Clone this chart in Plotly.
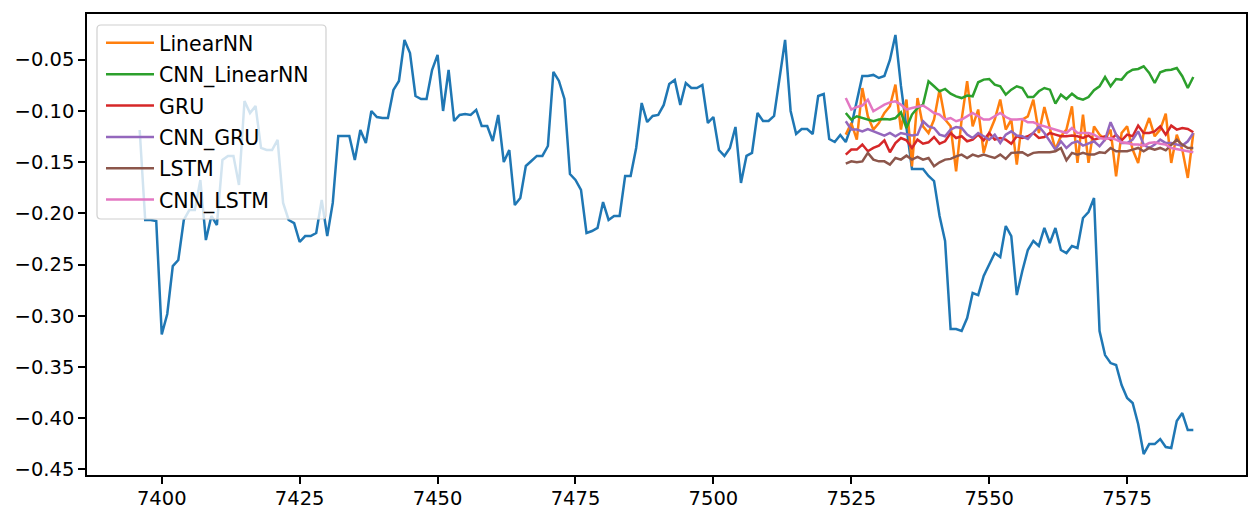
import plotly.graph_objects as go

# ---------------- data ----------------
actual_start = 7396
actual = [
    -0.1187, -0.2065, -0.2065, -0.2075, -0.3183, -0.2983, -0.2515, -0.2456, -0.2065, -0.1968,
    -0.1968, -0.1675, -0.2261, -0.2026, -0.2114, -0.1480, -0.1440, -0.1440, -0.1724, -0.0904,
    -0.1021, -0.0952, -0.1362, -0.1382, -0.1382, -0.1284, -0.1899, -0.2065, -0.2095, -0.2280,
    -0.2222, -0.2222, -0.2192, -0.1870, -0.2222, -0.1899, -0.1245, -0.1245, -0.1245, -0.1480,
    -0.1187, -0.1314, -0.1001, -0.1060, -0.1070, -0.1070, -0.0796, -0.0708, -0.0308, -0.0435,
    -0.0855, -0.0884, -0.0884, -0.0601, -0.0454, -0.1001, -0.0601, -0.1099, -0.1040, -0.1030,
    -0.1040, -0.0991, -0.1148, -0.1148, -0.1294, -0.1040, -0.1499, -0.1382, -0.1919, -0.1851,
    -0.1538, -0.1489, -0.1440, -0.1440, -0.1343, -0.0620, -0.0708, -0.0884, -0.1616, -0.1675,
    -0.1772, -0.2192, -0.2173, -0.2143, -0.1890, -0.2065, -0.2026, -0.2026, -0.1636, -0.1636,
    -0.1362, -0.0923, -0.1109, -0.1050, -0.1040, -0.0942, -0.0738, -0.0698, -0.0942, -0.0728,
    -0.0777, -0.0777, -0.0747, -0.1118, -0.1060, -0.1382, -0.1440, -0.1362, -0.1157, -0.1704,
    -0.1440, -0.1411, -0.1021, -0.1099, -0.1099, -0.1050, -0.0698, -0.0308, -0.1001, -0.1226,
    -0.1177, -0.1177, -0.1226, -0.0855, -0.0835, -0.1275, -0.1304, -0.1235, -0.1304, -0.1148,
    -0.0904, -0.0659, -0.0659, -0.0649, -0.0679, -0.0659, -0.0503, -0.0259, -0.0757, -0.1187,
    -0.1567, -0.1567, -0.1567, -0.1636, -0.1685, -0.2026, -0.2270, -0.3130, -0.3130, -0.3149,
    -0.3022, -0.2778, -0.2798, -0.2612, -0.2505, -0.2388, -0.2427, -0.2124, -0.2222, -0.2798,
    -0.2563, -0.2358, -0.2270, -0.2319, -0.2143, -0.2290, -0.2143, -0.2358, -0.2388, -0.2319,
    -0.2339, -0.2046, -0.1987, -0.1851, -0.3149, -0.3384, -0.3462, -0.3481, -0.3676, -0.3803,
    -0.3852, -0.4057, -0.4350, -0.4253, -0.4253, -0.4204, -0.4282, -0.4292, -0.4028, -0.3950,
    -0.4116, -0.4116,
]

pred_start = 7524

linear_nn = [
    -0.1232, -0.1119, -0.1280, -0.0777, -0.1053, -0.1183, -0.1119, -0.1021, -0.0955, -0.0744,
    -0.1183, -0.0890, -0.1541, -0.0875, -0.1151, -0.1216, -0.1085, -0.0793, -0.1085, -0.1151,
    -0.1590, -0.1085, -0.0711, -0.1151, -0.0987, -0.1410, -0.1216, -0.1085, -0.0890, -0.1183,
    -0.1085, -0.1524, -0.1085, -0.1053, -0.0890, -0.1216, -0.0962, -0.1183, -0.1378, -0.1248,
    -0.1183, -0.0955, -0.1508, -0.1036, -0.1508, -0.1151, -0.1232, -0.1280, -0.1183, -0.1639,
    -0.1216, -0.1151, -0.1378, -0.1508, -0.1216, -0.1070, -0.1248, -0.1183, -0.1027, -0.1508,
    -0.1232, -0.1378, -0.1655, -0.1216,
]

cnn_linear_nn = [
    -0.1021, -0.1085, -0.1053, -0.1070, -0.1085, -0.1101, -0.1085, -0.1080, -0.1085, -0.1070,
    -0.1014, -0.1167, -0.1036, -0.0972, -0.0939, -0.0711, -0.0760, -0.0809, -0.0786, -0.0832,
    -0.0858, -0.0875, -0.0851, -0.0858, -0.0721, -0.0695, -0.0689, -0.0744, -0.0760, -0.0842,
    -0.0793, -0.0760, -0.0777, -0.0865, -0.0865, -0.0809, -0.0777, -0.0793, -0.0929, -0.0842,
    -0.0884, -0.0832, -0.0875, -0.0890, -0.0865, -0.0799, -0.0760, -0.0670, -0.0760, -0.0689,
    -0.0695, -0.0630, -0.0598, -0.0591, -0.0565, -0.0630, -0.0728, -0.0623, -0.0604, -0.0598,
    -0.0582, -0.0662, -0.0777, -0.0670,
]

gru = [
    -0.1427, -0.1378, -0.1378, -0.1329, -0.1394, -0.1362, -0.1339, -0.1288, -0.1404, -0.1314,
    -0.1265, -0.1288, -0.1362, -0.1281, -0.1320, -0.1307, -0.1255, -0.1320, -0.1297, -0.1216,
    -0.1265, -0.1248, -0.1297, -0.1281, -0.1232, -0.1288, -0.1216, -0.1281, -0.1265, -0.1281,
    -0.1320, -0.1248, -0.1265, -0.1248, -0.1216, -0.1265, -0.1255, -0.1216, -0.1232, -0.1248,
    -0.1248, -0.1241, -0.1248, -0.1265, -0.1241, -0.1281, -0.1265, -0.1248, -0.1281, -0.1232,
    -0.1288, -0.1232, -0.1248, -0.1144, -0.1216, -0.1216, -0.1200, -0.1151, -0.1232, -0.1144,
    -0.1183, -0.1167, -0.1177, -0.1209,
]

cnn_gru = [
    -0.1101, -0.1183, -0.1183, -0.1200, -0.1177, -0.1200, -0.1222, -0.1241, -0.1216, -0.1248,
    -0.1216, -0.1232, -0.1241, -0.1232, -0.1101, -0.1151, -0.1167, -0.1232, -0.1248, -0.1183,
    -0.1157, -0.1167, -0.1232, -0.1265, -0.1216, -0.1248, -0.1281, -0.1232, -0.1314, -0.1232,
    -0.1200, -0.1241, -0.1248, -0.1275, -0.1216, -0.1151, -0.1216, -0.1297, -0.1378, -0.1297,
    -0.1362, -0.1314, -0.1297, -0.1339, -0.1314, -0.1297, -0.1346, -0.1281, -0.1111, -0.1232,
    -0.1314, -0.1314, -0.1281, -0.1200, -0.1329, -0.1362, -0.1329, -0.1281, -0.1314, -0.1314,
    -0.1329, -0.1339, -0.1297, -0.1216,
]

lstm = [
    -0.1515, -0.1493, -0.1502, -0.1493, -0.1410, -0.1476, -0.1493, -0.1493, -0.1524, -0.1460,
    -0.1476, -0.1437, -0.1476, -0.1450, -0.1476, -0.1460, -0.1541, -0.1502, -0.1476, -0.1469,
    -0.1444, -0.1427, -0.1460, -0.1427, -0.1444, -0.1427, -0.1444, -0.1460, -0.1427, -0.1469,
    -0.1410, -0.1404, -0.1404, -0.1437, -0.1410, -0.1404, -0.1404, -0.1404, -0.1394, -0.1362,
    -0.1483, -0.1410, -0.1427, -0.1410, -0.1427, -0.1427, -0.1404, -0.1410, -0.1362, -0.1394,
    -0.1394, -0.1394, -0.1378, -0.1362, -0.1394, -0.1362, -0.1378, -0.1362, -0.1385, -0.1329,
    -0.1281, -0.1329, -0.1362, -0.1362,
]

cnn_lstm = [
    -0.0875, -0.0987, -0.0962, -0.0948, -0.0890, -0.1004, -0.0972, -0.0939, -0.0917, -0.0907,
    -0.0939, -0.0987, -0.0972, -0.0962, -0.0948, -0.0981, -0.1021, -0.1036, -0.1085, -0.1070,
    -0.1101, -0.1085, -0.1053, -0.1021, -0.1053, -0.1085, -0.1085, -0.1053, -0.1021, -0.1060,
    -0.1085, -0.1085, -0.1080, -0.1111, -0.1111, -0.1134, -0.1151, -0.1167, -0.1183, -0.1200,
    -0.1216, -0.1167, -0.1216, -0.1216, -0.1216, -0.1232, -0.1265, -0.1275, -0.1265, -0.1281,
    -0.1307, -0.1314, -0.1329, -0.1329, -0.1339, -0.1314, -0.1307, -0.1320, -0.1329, -0.1362,
    -0.1371, -0.1378, -0.1394, -0.1404,
]

series_names = ["LinearNN", "CNN_LinearNN", "GRU", "CNN_GRU", "LSTM", "CNN_LSTM"]
series_values = [linear_nn, cnn_linear_nn, gru, cnn_gru, lstm, cnn_lstm]
series_colors = ["#ff7f0e", "#2ca02c", "#d62728", "#9467bd", "#8c564b", "#e377c2"]

x_ticks = [7400, 7425, 7450, 7475, 7500, 7525, 7550, 7575]
y_ticks = [-0.45, -0.40, -0.35, -0.30, -0.25, -0.20, -0.15, -0.10, -0.05]

# ---------------- figure ----------------
actual_x = list(range(actual_start, actual_start + len(actual)))
pred_x = list(range(pred_start, pred_start + len(linear_nn)))

W, H = 1250, 514
ML, MR, MT, MB = 87, 4, 14, 39
PW, PH = W - ML - MR, H - MT - MB

def px_x(p):  # pixel column -> paper x
    return (p - ML) / PW

def px_y(p):  # pixel row -> paper y
    return 1 - (p - MT) / PH

LW = 2.5
fig = go.Figure()
fig.add_trace(go.Scatter(x=actual_x, y=actual, mode="lines",
                         line=dict(color="#1f77b4", width=LW),
                         showlegend=False, name="actual"))
for name, vals, col in zip(series_names, series_values, series_colors):
    fig.add_trace(go.Scatter(x=pred_x, y=vals, mode="lines", name=name,
                             legendgroup=name,
                             line=dict(color=col, width=LW)))

# matplotlib-like 5% margins
all_y = actual + [v for s in series_values for v in s]
ymin, ymax = min(all_y), max(all_y)
yr = ymax - ymin
xmin, xmax = actual_x[0], actual_x[-1]
xr = xmax - xmin

tick_font = dict(family="DejaVu Sans", size=19.5, color="#000000")
legend_font = dict(family="DejaVu Sans", size=20.5, color="#000000")
axis_common = dict(showline=True, mirror=True, linecolor="#000000", linewidth=1.5,
                   ticks="outside", ticklen=7, tickwidth=1.5, tickcolor="#000000",
                   showgrid=False, zeroline=False, tickfont=tick_font, automargin=False)

# legend frame (matplotlib-style rounded box, semi-transparent white)
bx0, bx1, by0, by1 = px_x(97), px_x(326), px_y(219), px_y(25)
rx, ry = 4 / PW, 4 / PH
frame_path = (
    f"M{bx0 + rx},{by1} L{bx1 - rx},{by1} Q{bx1},{by1} {bx1},{by1 - ry} "
    f"L{bx1},{by0 + ry} Q{bx1},{by0} {bx1 - rx},{by0} "
    f"L{bx0 + rx},{by0} Q{bx0},{by0} {bx0},{by0 + ry} "
    f"L{bx0},{by1 - ry} Q{bx0},{by1} {bx0 + rx},{by1} Z"
)

fig.update_layout(
    width=W, height=H,
    margin=dict(l=ML, r=MR, t=MT, b=MB),
    paper_bgcolor="white", plot_bgcolor="white",
    font=tick_font,
    xaxis=dict(range=[xmin - 0.05 * xr, xmax + 0.05 * xr],
               tickmode="array", tickvals=x_ticks,
               ticktext=[str(t) for t in x_ticks], ticklabelstandoff=-2,
               **axis_common),
    yaxis=dict(range=[ymin - 0.05 * yr, ymax + 0.05 * yr],
               tickmode="array", tickvals=y_ticks,
               ticktext=["\u2212%.2f" % abs(t) for t in y_ticks], **axis_common),
    shapes=[dict(type="path", xref="paper", yref="paper", path=frame_path,
                 fillcolor="rgba(255,255,255,0.8)",
                 line=dict(color="#d0d0d0", width=1.2), layer="above")],
    legend=dict(x=px_x(101), y=px_y(23), xanchor="left", yanchor="top",
                bgcolor="rgba(0,0,0,0)", borderwidth=0,
                font=legend_font, tracegroupgap=1.7, itemwidth=48),
)

fig.write_html("out.html",
               config={"displayModeBar": False},
               post_script="document.body.style.margin='0';document.body.style.padding='0';")
